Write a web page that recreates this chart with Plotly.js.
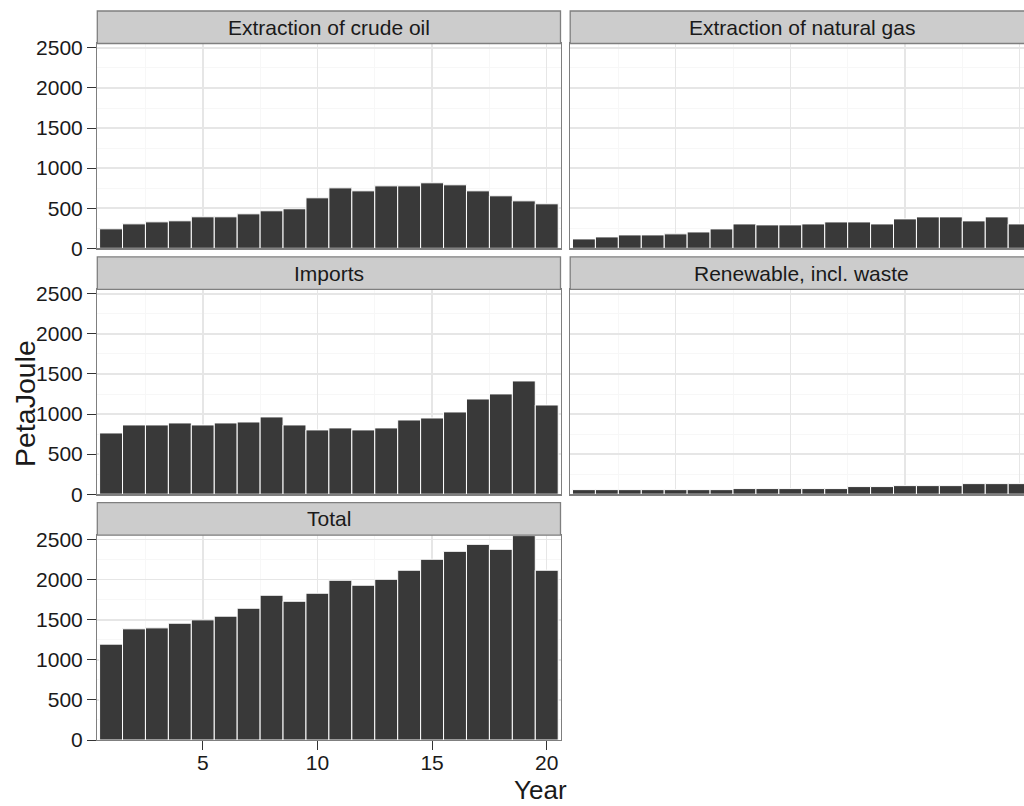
<!DOCTYPE html>
<html>
<head>
<meta charset="utf-8">
<script src="https://cdn.plot.ly/plotly-3.0.1.min.js"></script>
<style>
html, body { margin: 0; padding: 0; overflow: hidden; background: #ffffff; }
#chart { width: 1040px; height: 806px; }
</style>
</head>
<body>
<div id="chart"></div>
<script>
// ---- data ----
const years = [1, 2, 3, 4, 5, 6, 7, 8, 9, 10, 11, 12, 13, 14, 15, 16, 17, 18, 19, 20];
const panelTitles = ["Extraction of crude oil", "Extraction of natural gas", "Imports", "Renewable, incl. waste", "Total"];
const crudeOil   = [243, 305, 330, 343, 393, 393, 430, 468, 493, 630, 754, 717, 779, 779, 817, 792, 717, 655, 592, 555];
const naturalGas = [117, 142, 167, 167, 180, 204, 242, 304, 292, 292, 304, 329, 329, 304, 367, 392, 392, 342, 392, 304];
const imports    = [764, 864, 864, 889, 864, 889, 901, 964, 864, 802, 827, 802, 827, 926, 951, 1026, 1188, 1251, 1413, 1113];
const renewable  = [57, 57, 57, 57, 57, 57, 57, 70, 70, 70, 70, 70, 95, 95, 107, 107, 107, 132, 132, 132];
const total      = [1196, 1387, 1399, 1457, 1499, 1545, 1644, 1806, 1731, 1831, 1993, 1931, 2005, 2118, 2255, 2354, 2441, 2379, 2550, 2118];
const seriesList = [crudeOil, naturalGas, imports, renewable, total];
const xTickVals = [5, 10, 15, 20];
const yTickVals = [0, 500, 1000, 1500, 2000, 2500];

// ---- layout geometry (pixels) ----
const W = 1040, H = 806;
const px = v => v / W;
const py = v => 1 - v / H;
const cols = [[97.3, 560.5], [570.2, 1033.4]];
const rows = [[43.5, 248.3], [289.4, 494.2], [535.2, 740]];
const stripH = 32.5;
const FONT = '"Liberation Sans", Arial, Helvetica, sans-serif';
const textCol = '#1a1a1a';
const borderCol = '#7f7f7f';

const placement = [[0, 0], [0, 1], [1, 0], [1, 1], [2, 0]]; // [row, col]

const traces = [];
const layout = {
  width: W, height: H,
  margin: {l: 0, r: 0, t: 0, b: 0, pad: 0},
  paper_bgcolor: '#ffffff',
  plot_bgcolor: '#ffffff',
  showlegend: false,
  bargap: 0,
  font: {family: FONT, color: textCol, size: 21},
  shapes: [],
  annotations: []
};

placement.forEach(([r, c], i) => {
  const n = i === 0 ? '' : String(i + 1);
  const isBottom = (i === 4);
  const isLeft = (c === 0);
  traces.push({
    type: 'bar',
    x: years,
    y: seriesList[i],
    width: 1,
    xaxis: 'x' + n,
    yaxis: 'y' + n,
    marker: {color: '#393939', line: {color: '#ffffff', width: 1}},
    hoverinfo: 'x+y'
  });
  layout['xaxis' + n] = {
    domain: [px(cols[c][0]), px(cols[c][1])],
    anchor: 'y' + n,
    range: [0.4, 20.6],
    tickmode: 'array',
    tickvals: xTickVals,
    showticklabels: isBottom,
    ticks: isBottom ? 'outside' : '',
    ticklen: 9, tickwidth: 1, tickcolor: '#333333',
    ticklabelstandoff: -6,
    tickfont: {family: FONT, size: 21, color: textCol},
    showgrid: true, gridcolor: '#e6e6e6', gridwidth: 1.5,
    minor: {tickmode: 'linear', tick0: 0, dtick: 2.5, showgrid: true, gridcolor: '#f7f7f7', gridwidth: 1, ticks: ''},
    zeroline: false,
    showline: true, linecolor: borderCol, linewidth: 1.3, mirror: true,
    fixedrange: true
  };
  layout['yaxis' + n] = {
    domain: [py(rows[r][1]), py(rows[r][0])],
    anchor: 'x' + n,
    range: [0, 2555],
    tickmode: 'array',
    tickvals: yTickVals,
    showticklabels: isLeft,
    ticks: isLeft ? 'outside' : '',
    ticklen: 9, tickwidth: 1, tickcolor: '#333333',
    tickfont: {family: FONT, size: 21, color: textCol},
    showgrid: true, gridcolor: '#e6e6e6', gridwidth: 1.5,
    minor: {tickmode: 'linear', tick0: 0, dtick: 250, showgrid: true, gridcolor: '#f7f7f7', gridwidth: 1, ticks: ''},
    zeroline: false,
    showline: true, linecolor: borderCol, linewidth: 1.3, mirror: true,
    fixedrange: true
  };
  // facet strip
  const sTop = rows[r][0] - stripH, sBot = rows[r][0];
  layout.shapes.push({
    type: 'rect', xref: 'paper', yref: 'paper', layer: 'above',
    x0: px(cols[c][0]), x1: px(cols[c][1]), y0: py(sBot), y1: py(sTop),
    fillcolor: '#cccccc', line: {color: borderCol, width: 1.3}
  });
  layout.annotations.push({
    xref: 'paper', yref: 'paper',
    x: px((cols[c][0] + cols[c][1]) / 2), y: py((sTop + sBot) / 2),
    xanchor: 'center', yanchor: 'middle', showarrow: false,
    text: panelTitles[i],
    font: {family: FONT, size: 21, color: textCol}
  });
});

// axis titles
layout.annotations.push({
  xref: 'paper', yref: 'paper', x: px(540), y: py(790),
  xanchor: 'center', yanchor: 'middle', showarrow: false,
  text: 'Year', font: {family: FONT, size: 26, color: textCol}
});
layout.annotations.push({
  xref: 'paper', yref: 'paper', x: px(25), y: py(404),
  xanchor: 'center', yanchor: 'middle', showarrow: false, textangle: -90,
  text: 'PetaJoule', font: {family: FONT, size: 28.5, color: textCol}
});

Plotly.newPlot('chart', traces, layout, {displayModeBar: false, staticPlot: true});
</script>
</body>
</html>
